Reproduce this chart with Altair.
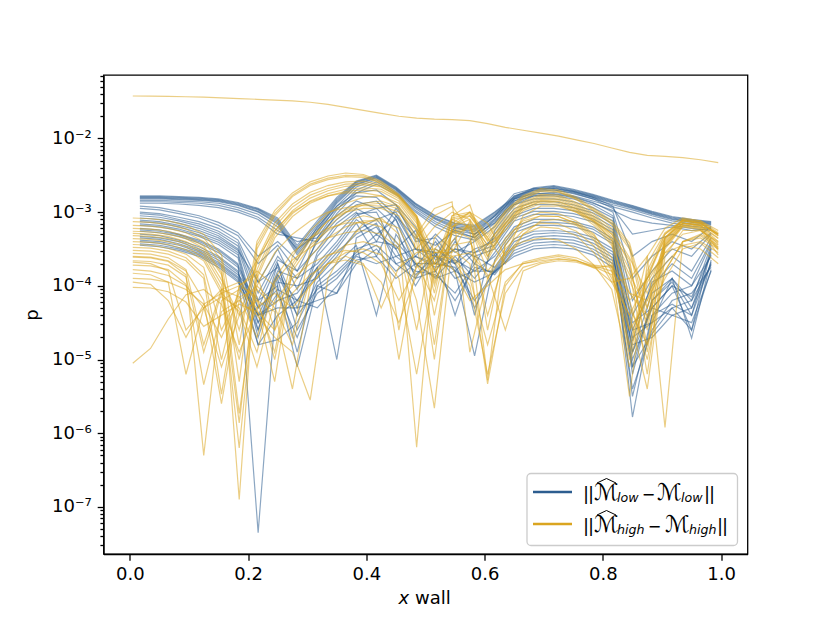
import altair as alt
import pandas as pd

BLUE = "#2c5d8f"
ORANGE = "#daa520"

# ---- sample positions along the wall ----
x_low = [0.017, 0.050, 0.083, 0.117, 0.150, 0.183, 0.217, 0.250, 0.283, 0.317,
         0.350, 0.383, 0.417, 0.450, 0.483, 0.517, 0.550, 0.583, 0.617, 0.650,
         0.683, 0.717, 0.750, 0.783, 0.817, 0.850, 0.883, 0.917, 0.950, 0.983]
x_high = [0.005, 0.035, 0.065, 0.095, 0.125, 0.155, 0.185, 0.215, 0.245, 0.275,
          0.305, 0.335, 0.365, 0.395, 0.425, 0.455, 0.485, 0.515, 0.545, 0.575,
          0.605, 0.635, 0.665, 0.695, 0.725, 0.755, 0.785, 0.815, 0.845, 0.875,
          0.905, 0.935, 0.965, 0.995]

# ---- log10(p) of the low-fidelity error curves ----
low_01 = [-2.78,-2.78,-2.79,-2.80,-2.82,-2.87,-2.95,-3.08,-3.45,-3.12,-2.80,-2.58,-2.50,-2.66,-2.88,-3.05,-3.15,-3.18,-3.00,-2.79,-2.67,-2.64,-2.69,-2.76,-2.84,-2.91,-2.99,-3.06,-3.10,-3.13]
low_02 = [-2.80,-2.80,-2.81,-2.82,-2.84,-2.89,-2.97,-3.12,-3.52,-3.18,-2.84,-2.60,-2.52,-2.68,-2.90,-3.08,-3.18,-3.22,-3.03,-2.81,-2.69,-2.66,-2.71,-2.78,-2.86,-2.93,-3.01,-3.08,-3.12,-3.15]
low_03 = [-2.82,-2.82,-2.83,-2.84,-2.86,-2.91,-3.00,-3.16,-3.58,-3.25,-2.88,-2.63,-2.54,-2.70,-2.93,-3.10,-3.22,-3.26,-3.06,-2.83,-2.71,-2.68,-2.73,-2.80,-2.88,-2.95,-3.03,-3.10,-3.14,-3.17]
low_04 = [-2.84,-2.84,-2.85,-2.86,-2.88,-2.94,-3.03,-3.20,-3.50,-3.30,-2.92,-2.66,-2.56,-2.72,-2.95,-3.13,-3.25,-3.30,-3.09,-2.85,-2.73,-2.70,-2.75,-2.82,-2.90,-2.97,-3.05,-3.12,-3.16,-3.19]
low_05 = [-2.86,-2.86,-2.87,-2.88,-2.91,-2.97,-3.07,-3.25,-3.40,-3.35,-2.97,-2.70,-2.59,-2.74,-2.98,-3.16,-3.28,-3.34,-3.12,-2.88,-2.76,-2.73,-2.78,-2.85,-2.93,-3.00,-3.08,-3.15,-3.19,-3.22]
low_06 = [-2.95,-2.97,-3.02,-3.08,-3.18,-3.32,-3.70,-3.45,-3.80,-3.25,-2.95,-2.78,-2.80,-3.05,-3.35,-3.45,-3.25,-3.35,-3.10,-2.78,-2.70,-2.70,-2.74,-2.82,-2.95,-3.30,-3.25,-3.20,-3.25,-3.22]
low_07 = [-3.02,-3.04,-3.10,-3.16,-3.26,-3.42,-4.10,-3.60,-3.90,-3.40,-3.10,-2.90,-2.85,-3.10,-3.60,-3.30,-3.55,-3.40,-3.20,-2.85,-2.78,-2.78,-2.82,-2.90,-3.05,-4.20,-3.80,-3.50,-3.60,-3.30]
low_08 = [-3.08,-3.10,-3.15,-3.22,-3.32,-3.50,-4.30,-3.70,-4.30,-3.55,-3.20,-3.00,-3.40,-2.95,-3.30,-3.80,-3.40,-3.70,-3.30,-2.95,-2.86,-2.86,-2.90,-2.98,-3.12,-4.60,-4.00,-3.70,-3.90,-3.40]
low_09 = [-3.13,-3.15,-3.20,-3.28,-3.38,-3.55,-4.50,-3.80,-3.90,-3.70,-3.40,-3.05,-2.95,-3.20,-3.90,-3.50,-3.70,-3.50,-3.40,-3.05,-2.95,-2.95,-2.98,-3.05,-3.20,-4.90,-4.10,-3.90,-4.20,-3.45]
low_10 = [-3.18,-3.20,-3.25,-3.33,-3.44,-3.62,-4.70,-3.90,-4.90,-3.80,-3.50,-3.15,-3.60,-3.05,-3.50,-3.55,-4.40,-3.60,-3.50,-3.12,-3.03,-3.03,-3.06,-3.13,-3.28,-4.50,-4.30,-4.00,-4.60,-3.50]
low_11 = [-3.22,-3.24,-3.30,-3.38,-3.50,-3.70,-7.35,-3.95,-4.00,-3.90,-3.60,-3.25,-3.10,-3.40,-3.70,-3.88,-3.60,-3.90,-3.55,-3.20,-3.10,-3.10,-3.13,-3.20,-3.36,-5.20,-4.20,-3.90,-4.30,-3.55]
low_12 = [-3.26,-3.28,-3.33,-3.42,-3.55,-3.75,-4.40,-4.20,-4.10,-3.75,-5.00,-3.35,-3.20,-3.60,-3.50,-3.60,-3.80,-4.95,-3.65,-3.28,-3.18,-3.18,-3.20,-3.27,-3.43,-5.78,-4.40,-4.10,-4.00,-3.60]
low_13 = [-3.30,-3.32,-3.38,-3.47,-3.60,-3.80,-4.80,-4.73,-4.50,-3.95,-3.70,-3.45,-4.40,-3.30,-3.70,-3.70,-3.50,-3.60,-3.75,-3.36,-3.26,-3.25,-3.27,-3.34,-3.50,-4.70,-4.50,-3.90,-4.71,-3.65]
low_14 = [-3.35,-3.37,-3.43,-3.52,-3.65,-3.85,-4.20,-4.00,-5.10,-4.00,-3.80,-3.55,-3.30,-3.50,-4.00,-3.55,-3.90,-3.80,-3.80,-3.45,-3.34,-3.32,-3.34,-3.42,-3.58,-5.00,-4.30,-4.40,-4.30,-3.70]
low_15 = [-3.40,-3.42,-3.48,-3.56,-3.70,-3.90,-4.60,-3.70,-4.60,-4.10,-3.90,-3.60,-3.70,-3.60,-3.80,-3.85,-4.10,-3.70,-3.85,-3.52,-3.42,-3.40,-3.42,-3.50,-3.66,-5.40,-4.60,-4.20,-4.10,-3.75]
low_16 = [-3.45,-3.47,-3.52,-3.60,-3.75,-3.95,-4.40,-4.30,-4.30,-4.20,-4.10,-3.70,-3.50,-3.80,-3.60,-3.70,-3.75,-4.20,-3.80,-3.60,-3.50,-3.48,-3.50,-3.58,-3.75,-4.80,-4.70,-4.40,-4.50,-3.80]
low_17 = [-2.79,-2.79,-2.80,-2.81,-2.83,-2.88,-2.96,-3.10,-3.48,-3.15,-2.82,-2.59,-2.51,-2.67,-2.89,-3.06,-3.16,-3.20,-3.01,-2.80,-2.68,-2.65,-2.70,-2.77,-2.85,-2.92,-3.00,-3.07,-3.11,-3.14]
low_18 = [-2.81,-2.81,-2.82,-2.83,-2.85,-2.90,-2.99,-3.14,-3.55,-3.22,-2.86,-2.62,-2.53,-2.69,-2.92,-3.09,-3.20,-3.24,-3.05,-2.82,-2.70,-2.67,-2.72,-2.79,-2.87,-2.94,-3.02,-3.09,-3.13,-3.16]
low_19 = [-2.88,-2.88,-2.89,-2.91,-2.94,-3.00,-3.10,-3.30,-3.35,-3.40,-3.02,-2.74,-2.62,-2.76,-3.00,-3.20,-3.32,-3.38,-3.15,-2.90,-2.78,-2.76,-2.80,-2.88,-2.98,-3.10,-3.15,-3.18,-3.22,-3.25]
low_20 = [-2.92,-2.94,-2.99,-3.05,-3.14,-3.28,-3.60,-3.40,-3.65,-3.20,-2.92,-2.74,-2.70,-2.90,-3.20,-3.60,-3.20,-3.30,-3.05,-2.75,-2.68,-2.68,-2.72,-2.80,-2.92,-3.60,-3.40,-3.30,-3.40,-3.20]
low_21 = [-3.00,-3.02,-3.07,-3.13,-3.22,-3.38,-3.95,-3.50,-4.05,-3.35,-3.05,-2.85,-2.95,-2.90,-3.40,-3.35,-3.70,-3.30,-3.15,-2.82,-2.75,-2.75,-2.79,-2.87,-3.00,-3.90,-3.60,-3.40,-3.50,-3.28]
low_22 = [-3.05,-3.07,-3.12,-3.19,-3.29,-3.46,-4.20,-3.65,-3.80,-3.50,-3.15,-2.95,-3.10,-3.00,-3.50,-3.70,-3.35,-4.40,-3.25,-2.90,-2.82,-2.82,-2.86,-2.94,-3.08,-4.40,-3.90,-3.60,-3.80,-3.35]
low_23 = [-3.11,-3.13,-3.18,-3.25,-3.35,-3.52,-3.95,-3.75,-4.40,-3.60,-3.30,-3.02,-3.00,-3.50,-3.25,-3.65,-3.50,-3.55,-3.35,-3.00,-2.90,-2.90,-2.94,-3.01,-3.16,-4.75,-3.95,-3.80,-4.00,-3.42]
low_24 = [-3.16,-3.18,-3.23,-3.31,-3.41,-3.58,-4.60,-3.85,-4.20,-3.75,-3.45,-3.10,-3.30,-3.10,-3.75,-3.40,-3.80,-3.55,-3.45,-3.08,-2.99,-2.99,-3.02,-3.09,-3.24,-5.10,-4.20,-3.95,-4.40,-3.48]
low_25 = [-3.24,-3.26,-3.31,-3.40,-3.52,-3.72,-4.30,-4.05,-4.20,-3.85,-3.55,-3.30,-3.15,-3.70,-3.60,-3.75,-3.65,-3.80,-3.60,-3.24,-3.14,-3.14,-3.16,-3.23,-3.40,-4.90,-4.30,-4.00,-4.15,-3.58]
low_26 = [-3.33,-3.35,-3.40,-3.50,-3.62,-3.82,-4.50,-4.10,-4.70,-4.00,-4.10,-3.50,-3.40,-3.45,-3.85,-3.60,-3.70,-4.30,-3.78,-3.40,-3.30,-3.28,-3.30,-3.38,-3.54,-5.50,-4.40,-4.25,-4.40,-3.68]
low_27 = [-3.38,-3.40,-3.45,-3.54,-3.68,-3.88,-4.40,-3.85,-4.40,-4.05,-3.85,-3.58,-3.45,-3.70,-3.90,-3.80,-4.20,-3.75,-3.82,-3.48,-3.38,-3.36,-3.38,-3.46,-3.62,-4.60,-4.50,-4.30,-4.20,-3.72]
low_28 = [-3.43,-3.45,-3.50,-3.58,-3.72,-3.93,-4.80,-4.40,-4.20,-4.30,-4.00,-3.65,-3.60,-3.90,-3.70,-3.90,-3.80,-3.95,-3.82,-3.56,-3.46,-3.44,-3.46,-3.54,-3.70,-5.10,-4.65,-4.30,-4.60,-3.78]

# ---- log10(p) of the high-fidelity error curves ----
high_01 = [-1.425,-1.427,-1.43,-1.435,-1.44,-1.45,-1.46,-1.47,-1.48,-1.49,-1.51,-1.54,-1.58,-1.62,-1.66,-1.70,-1.725,-1.74,-1.745,-1.76,-1.80,-1.85,-1.89,-1.93,-1.97,-2.02,-2.07,-2.13,-2.19,-2.23,-2.245,-2.26,-2.29,-2.33]
high_02 = [-3.08,-3.09,-3.12,-3.18,-3.30,-3.58,-4.80,-3.40,-2.98,-2.74,-2.59,-2.51,-2.47,-2.49,-2.58,-2.76,-3.05,-3.70,-3.05,-3.00,-3.30,-2.98,-2.78,-2.68,-2.70,-2.80,-2.95,-3.12,-3.42,-4.30,-3.35,-3.10,-3.12,-3.28]
high_03 = [-3.18,-3.19,-3.22,-3.28,-3.40,-3.72,-6.90,-3.50,-3.05,-2.79,-2.64,-2.56,-2.52,-2.53,-2.61,-2.78,-3.08,-3.90,-3.10,-3.05,-3.38,-3.03,-2.82,-2.72,-2.73,-2.83,-2.99,-3.17,-3.50,-4.60,-3.38,-3.12,-3.15,-3.32]
high_04 = [-3.26,-3.27,-3.30,-3.36,-3.49,-3.85,-4.60,-3.65,-3.15,-2.89,-2.73,-2.64,-2.59,-2.58,-2.63,-2.78,-3.05,-3.55,-3.55,-3.12,-3.45,-3.08,-2.86,-2.76,-2.77,-2.87,-3.03,-3.22,-3.62,-4.10,-3.42,-3.15,-3.18,-3.40]
high_05 = [-3.32,-3.33,-3.36,-3.43,-3.57,-3.98,-5.86,-3.78,-3.26,-2.98,-2.81,-2.71,-2.65,-2.63,-2.66,-2.80,-3.10,-4.40,-3.25,-3.18,-3.55,-3.14,-2.90,-2.80,-2.81,-2.91,-3.08,-3.30,-3.78,-5.20,-3.46,-3.18,-3.20,-3.48]
high_06 = [-3.40,-3.41,-3.44,-3.51,-3.66,-4.10,-5.00,-3.90,-3.35,-3.06,-2.88,-2.78,-2.72,-2.70,-2.72,-2.85,-3.15,-3.70,-3.30,-3.22,-3.65,-3.20,-2.95,-2.85,-2.86,-2.96,-3.13,-3.38,-3.92,-4.50,-3.50,-3.20,-3.24,-3.58]
high_07 = [-3.52,-3.53,-3.57,-3.66,-3.90,-5.47,-4.00,-3.85,-4.60,-3.60,-3.25,-3.02,-2.88,-2.80,-2.78,-2.88,-3.20,-4.10,-3.05,-2.90,-3.60,-3.20,-2.95,-2.86,-2.88,-2.98,-3.15,-3.42,-4.60,-3.60,-3.22,-3.08,-3.12,-3.25]
high_08 = [-3.61,-3.62,-3.67,-3.85,-6.30,-4.20,-4.05,-4.30,-5.30,-3.75,-3.38,-3.12,-2.97,-2.88,-2.85,-2.93,-3.35,-3.05,-2.92,-3.25,-5.28,-3.40,-3.10,-3.00,-3.02,-3.12,-3.30,-3.70,-5.00,-3.80,-3.30,-3.12,-3.15,-3.30]
high_09 = [-3.72,-3.73,-3.78,-3.98,-5.34,-4.35,-4.20,-4.40,-4.70,-4.90,-5.55,-3.90,-3.45,-3.15,-3.08,-3.30,-6.19,-3.50,-3.25,-3.35,-4.40,-3.60,-3.30,-3.20,-3.22,-3.32,-3.55,-3.95,-3.90,-3.60,-5.92,-3.40,-3.30,-3.45]
high_10 = [-3.83,-3.85,-3.95,-5.20,-4.30,-4.15,-4.30,-4.90,-3.95,-3.65,-3.48,-3.35,-3.28,-3.25,-3.30,-3.50,-4.20,-5.66,-3.45,-3.40,-3.90,-3.55,-3.40,-3.35,-3.38,-3.50,-3.72,-4.05,-5.10,-3.95,-3.55,-3.45,-3.50,-3.70]
high_11 = [-3.90,-3.91,-3.95,-4.05,-4.25,-4.70,-4.15,-4.05,-4.30,-4.80,-3.90,-3.60,-3.45,-3.40,-3.48,-5.00,-3.70,-3.55,-3.50,-3.70,-5.33,-4.00,-3.68,-3.62,-3.58,-3.62,-3.72,-3.75,-4.30,-4.80,-3.80,-3.40,-3.35,-3.50]
high_12 = [-3.22,-3.23,-3.26,-3.33,-3.46,-3.82,-5.73,-4.00,-3.55,-3.30,-3.12,-3.00,-2.94,-2.91,-2.92,-3.00,-3.25,-3.80,-3.15,-3.00,-3.15,-3.60,-3.05,-2.92,-2.92,-3.00,-3.12,-3.30,-3.65,-4.90,-3.40,-3.15,-3.18,-3.36]
high_13 = [-5.05,-4.85,-4.45,-4.12,-4.05,-4.25,-4.90,-4.30,-4.10,-4.30,-4.00,-3.70,-3.60,-3.70,-4.30,-3.75,-3.55,-3.50,-3.60,-3.90,-4.80,-3.95,-3.70,-3.64,-3.60,-3.65,-3.76,-3.72,-4.10,-4.40,-3.90,-3.50,-3.42,-3.62]
high_14 = [-4.02,-4.03,-4.08,-4.22,-4.55,-4.40,-4.25,-4.35,-4.60,-4.10,-3.85,-3.70,-3.65,-3.72,-3.95,-4.50,-3.85,-3.70,-3.75,-4.20,-4.00,-3.78,-3.70,-3.66,-3.63,-3.66,-3.74,-3.85,-4.60,-4.20,-3.70,-3.45,-3.40,-3.55]
high_15 = [-3.66,-3.67,-3.72,-3.88,-4.90,-4.10,-4.00,-4.15,-5.00,-3.80,-3.45,-3.25,-3.12,-3.05,-3.10,-4.60,-3.30,-2.95,-2.86,-4.90,-3.90,-3.35,-3.12,-3.05,-3.06,-3.15,-3.32,-3.62,-4.90,-3.90,-3.35,-3.15,-3.18,-3.35]
high_16 = [-3.78,-3.80,-3.86,-4.00,-4.30,-5.10,-4.40,-4.20,-4.35,-5.40,-4.00,-3.70,-3.55,-3.50,-3.58,-3.90,-5.20,-3.80,-3.60,-3.55,-3.85,-4.60,-3.80,-3.70,-3.66,-3.68,-3.75,-3.95,-4.40,-3.90,-3.55,-3.30,-3.25,-3.40]
high_17 = [-3.13,-3.14,-3.17,-3.23,-3.35,-3.65,-5.30,-3.45,-3.02,-2.77,-2.62,-2.54,-2.50,-2.51,-2.60,-2.77,-3.06,-3.80,-3.08,-3.02,-3.34,-3.00,-2.80,-2.70,-2.72,-2.82,-2.97,-3.15,-3.46,-4.45,-3.36,-3.11,-3.14,-3.30]
high_18 = [-3.29,-3.30,-3.33,-3.40,-3.53,-3.92,-4.40,-3.70,-3.20,-2.93,-2.77,-2.68,-2.62,-2.61,-2.65,-2.79,-3.08,-3.95,-3.40,-3.15,-3.50,-3.11,-2.88,-2.78,-2.79,-2.89,-3.06,-3.26,-3.70,-4.80,-3.44,-3.16,-3.19,-3.44]
high_19 = [-3.36,-3.37,-3.40,-3.47,-3.62,-4.05,-6.20,-3.85,-3.30,-3.02,-2.85,-2.75,-2.69,-2.67,-2.69,-2.82,-3.12,-4.00,-3.28,-3.20,-3.60,-3.17,-2.92,-2.82,-2.83,-2.93,-3.10,-3.34,-3.85,-4.30,-3.48,-3.19,-3.22,-3.52]
high_20 = [-3.44,-3.45,-3.49,-3.57,-3.75,-4.60,-4.10,-3.65,-3.25,-3.00,-2.86,-2.78,-2.74,-2.74,-2.78,-2.92,-3.25,-4.80,-3.20,-3.10,-3.45,-3.25,-2.98,-2.88,-2.90,-3.00,-3.18,-3.45,-4.10,-4.20,-3.45,-3.18,-3.22,-3.50]
high_21 = [-3.56,-3.57,-3.62,-3.78,-4.80,-4.05,-3.95,-4.20,-4.90,-3.70,-3.35,-3.12,-3.00,-2.95,-2.95,-3.05,-3.50,-3.20,-3.00,-3.10,-4.60,-3.45,-3.15,-3.05,-3.06,-3.16,-3.35,-3.75,-5.50,-3.70,-3.28,-3.12,-3.15,-3.32]
high_22 = [-3.68,-3.70,-3.80,-4.60,-4.30,-4.05,-4.15,-4.70,-3.90,-3.55,-3.35,-3.22,-3.15,-3.14,-3.20,-3.45,-4.60,-3.35,-3.10,-3.20,-3.80,-3.50,-3.25,-3.15,-3.16,-3.26,-3.46,-3.90,-4.40,-5.40,-3.60,-3.25,-3.25,-3.42]
high_23 = [-3.48,-3.49,-3.53,-3.62,-3.85,-5.00,-4.00,-3.80,-4.00,-4.70,-3.50,-3.20,-3.00,-2.90,-2.88,-2.96,-3.40,-5.00,-3.20,-3.00,-3.40,-3.15,-2.92,-2.84,-2.85,-2.95,-3.12,-3.38,-4.20,-3.90,-3.30,-3.10,-3.14,-3.30]
high_24 = [-3.95,-3.98,-4.20,-4.70,-4.25,-4.10,-4.35,-5.10,-4.20,-3.90,-3.70,-3.58,-3.52,-3.55,-3.70,-4.20,-3.75,-3.60,-3.62,-4.00,-5.20,-4.10,-3.75,-3.68,-3.64,-3.66,-3.73,-3.80,-4.20,-5.00,-3.80,-3.40,-3.32,-3.48]
high_25 = [-3.60,-3.61,-3.66,-3.80,-4.20,-5.60,-4.20,-4.00,-4.25,-4.00,-3.60,-3.35,-3.20,-3.12,-3.12,-3.22,-3.70,-4.20,-3.20,-3.05,-3.35,-3.70,-3.30,-3.12,-3.10,-3.18,-3.38,-3.80,-4.80,-3.85,-3.35,-3.15,-3.16,-3.30]

low_curves = [low_01, low_02, low_03, low_04, low_05, low_06, low_07, low_08,
              low_09, low_10, low_11, low_12, low_13, low_14, low_15, low_16,
              low_17, low_18, low_19, low_20, low_21, low_22, low_23, low_24,
              low_25, low_26, low_27, low_28]
high_curves = [high_01, high_02, high_03, high_04, high_05, high_06, high_07, high_08,
               high_09, high_10, high_11, high_12, high_13, high_14, high_15, high_16,
               high_17, high_18, high_19, high_20, high_21, high_22, high_23, high_24,
               high_25]


def long_table(xs, curves):
    rows = []
    for i, c in enumerate(curves):
        assert len(c) == len(xs), (i, len(c))
        for x, v in zip(xs, c):
            rows.append({"x": x, "p": 10 ** v, "id": i})
    return pd.DataFrame(rows)


df_low = long_table(x_low, low_curves)
df_high = long_table(x_high, high_curves)

# ---- axes ----
y_ticks = []
for e in range(-8, -1):
    for m in range(1, 10):
        v = m * 10.0 ** e
        if 2.3e-8 <= v <= 7.2e-2:
            y_ticks.append(float(f"{v:.3g}"))
sup = {2: "²", 3: "³", 4: "⁴", 5: "⁵", 6: "⁶", 7: "⁷"}
label_expr = "".join(
    f"abs(datum.value/1e-{k}-1)<1e-6?'10⁻{sup[k]}':" for k in range(2, 8)
) + "''"
major_test = "abs(log(datum.value)/LN10 - round(log(datum.value)/LN10)) < 0.01"

axis_common = dict(
    grid=False, tickColor="black", domainColor="black", tickWidth=1.3,
    domainWidth=1.3, labelColor="black", labelFontSize=18, labelFont="DejaVu Sans",
    labelOverlap=False, labelFlush=False,
)
y_axis = alt.Axis(
    values=y_ticks, labelExpr=label_expr,
    tickSize={"condition": {"test": major_test, "value": 6.3}, "value": 3.6},
    title="p", titleFontSize=18, titleFontWeight="normal", titleColor="black",
    titleFont="DejaVu Sans", titlePadding=10, labelPadding=6, **axis_common,
)
x_axis = alt.Axis(
    values=[0.0, 0.2, 0.4, 0.6, 0.8, 1.0], format=".1f", title=None,
    tickSize=6.3, labelPadding=5, **axis_common,
)
y_scale = alt.Scale(type="log", domain=[2.3e-8, 7.24e-2], nice=False)
x_scale = alt.Scale(domain=[-0.0445, 1.0445], nice=False, zero=False)


def lines(df, color):
    return alt.Chart(df).mark_line(color=color, strokeWidth=1.2, opacity=0.55).encode(
        x=alt.X("x:Q", scale=x_scale, axis=x_axis),
        y=alt.Y("p:Q", scale=y_scale, axis=y_axis),
        detail="id:N",
    )


# ---- decorations (legend, x title) ----
OX, OY = 103.5, 75.0
dummy = pd.DataFrame({"k": [0]})


def txt(text, xp, yp, size=18, style="normal", align="left"):
    return alt.Chart(dummy).mark_text(
        text=text, fontSize=size, fontStyle=style, align=align,
        baseline="alphabetic", font="DejaVu Sans", color="black",
    ).encode(x=alt.value(xp - OX), y=alt.value(yp - OY))


def seg(x1, y1, x2, y2, color="black", w=1.0):
    return alt.Chart(dummy).mark_rule(color=color, strokeWidth=w).encode(
        x=alt.value(x1 - OX), y=alt.value(y1 - OY),
        x2=alt.value(x2 - OX), y2=alt.value(y2 - OY),
    )


legend_box = alt.Chart(dummy).mark_rect(
    fill="white", fillOpacity=0.8, stroke="#cccccc", strokeWidth=1.3, cornerRadius=4
).encode(
    x=alt.value(527 - OX), x2=alt.value(737.5 - OX),
    y=alt.value(473.5 - OY), y2=alt.value(545.5 - OY),
)

deco = [
    legend_box,
    seg(533, 492, 572, 492, BLUE, 2.7),
    seg(533, 524, 572, 524, ORANGE, 2.7),
    # row 1
    txt("|", 586, 500, align="center"), txt("|", 591, 500, align="center"),
    txt("ℳ", 594, 499.5, size=23),
    seg(597, 483, 606.5, 478.5), seg(606.5, 478.5, 616, 483),
    txt("low", 617, 502, size=12.6, style="italic"),
    txt("−", 648.5, 499.5, size=16, align="center"),
    txt("ℳ", 657, 499.5, size=23),
    txt("low", 681, 502, size=12.6, style="italic"),
    txt("|", 707, 500, align="center"), txt("|", 712, 500, align="center"),
    # row 2
    txt("|", 586, 532, align="center"), txt("|", 591, 532, align="center"),
    txt("ℳ", 594, 531.5, size=23),
    seg(597, 515, 606.5, 510.5), seg(606.5, 510.5, 616, 515),
    txt("high", 617, 534, size=12.6, style="italic"),
    txt("−", 654.5, 531.5, size=16, align="center"),
    txt("ℳ", 665, 531.5, size=23),
    txt("high", 689, 534, size=12.6, style="italic"),
    txt("|", 720, 532, align="center"), txt("|", 725, 532, align="center"),
    # x axis title
    txt("x", 398.5, 604, style="italic"),
    txt("wall", 415, 604),
]

chart = alt.layer(lines(df_low, BLUE), lines(df_high, ORANGE), *deco).properties(
    width=644, height=479,
    padding={"left": OX - 8, "top": OY - 8, "right": 70, "bottom": 60},
    autosize=alt.AutoSizeParams(type="none"),
).configure(
    font="DejaVu Sans",
    view=alt.ViewConfig(stroke="black", strokeWidth=1.3),
)

chart.save("out.html", embed_options={"renderer": "svg", "actions": False})
